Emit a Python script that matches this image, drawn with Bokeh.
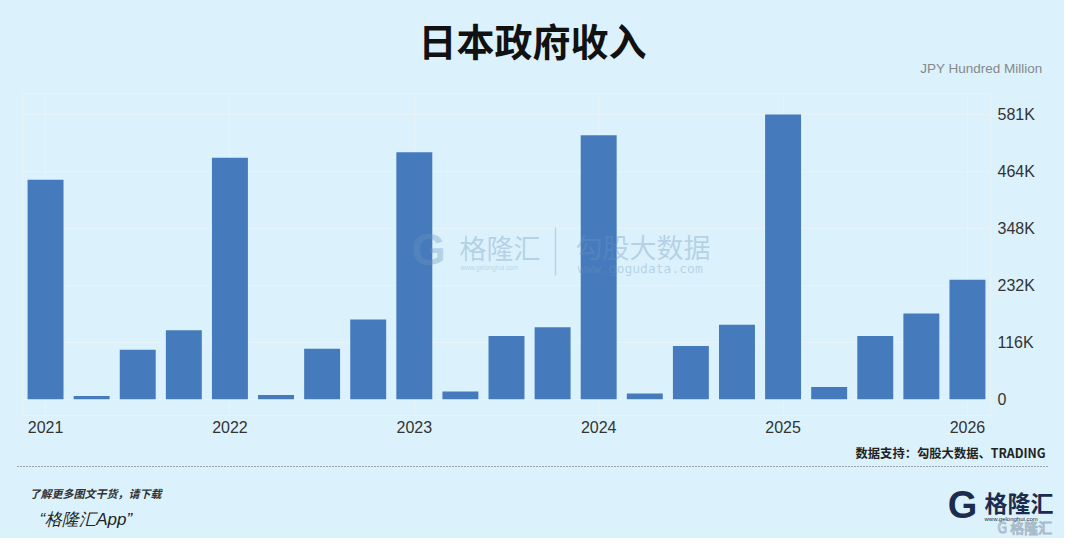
from bokeh.plotting import figure
from bokeh.layouts import column
from bokeh.models import (ColumnDataSource, Range1d, FixedTicker, Label, Arrow)
from bokeh.embed import file_html
from bokeh.resources import INLINE

# ---- data (JPY hundred million, quarterly) ----
quarters = ["2021Q1", "2021Q2", "2021Q3", "2021Q4",
            "2022Q1", "2022Q2", "2022Q3", "2022Q4",
            "2023Q1", "2023Q2", "2023Q3", "2023Q4",
            "2024Q1", "2024Q2", "2024Q3", "2024Q4",
            "2025Q1", "2025Q2", "2025Q3", "2025Q4",
            "2026Q1"]
revenue = [448000, 7000, 101000, 141000,
           493000, 9000, 103000, 163000,
           504000, 16000, 129000, 147000,
           539000, 12000, 109000, 152000,
           581000, 25000, 129000, 175000,
           244000]
year_labels = ["2021", "2022", "2023", "2024", "2025", "2026"]
y_ticks = [0, 116200, 232400, 348600, 464800, 581000]
y_tick_labels = ["0", "116K", "232K", "348K", "464K", "581K"]

BG = "#dbf2fc"
BAR = "#457bbd"
GRID = "#e6f3f9"
WM = "#6f93bb"
W = 1064
H_HEAD, H_MAIN, H_FOOT = 92, 348, 98


def lab(fig, x, y, text, size, color="#222222", font="Noto Sans CJK SC", style="normal",
        align="left", baseline="middle", alpha=1.0, **kw):
    fig.add_layout(Label(x=x, y=y, x_units="screen", y_units="screen", text=text,
                         text_font=font, text_font_size=size, text_font_style=style,
                         text_color=color, text_align=align, text_baseline=baseline,
                         text_alpha=alpha, **kw))


def blank(h):
    f = figure(width=W, height=h, output_backend="svg", toolbar_location=None,
               x_range=Range1d(0, W), y_range=Range1d(0, h),
               x_axis_location=None, y_axis_location=None,
               min_border=0, background_fill_color=BG, border_fill_color=BG,
               outline_line_color=None, frame_align=False)
    f.grid.visible = False
    return f


# ---- header ----
head = blank(H_HEAD)
lab(head, 532, 53.5, "日本政府收入", "38px", "#111111", style="bold", align="center")
lab(head, 1042, 24, "JPY Hundred Million", "13.5px", "#888888", font="Liberation Sans", align="right")

# ---- main chart ----
idx = list(range(len(quarters)))
source = ColumnDataSource(dict(x=idx, top=revenue, q=quarters))

p = figure(width=W, height=H_MAIN, output_backend="svg", toolbar_location=None,
           x_range=Range1d(-0.5, len(quarters) - 0.5),
           y_range=Range1d(-33000, 624000),
           y_axis_location="right",
           min_border_left=22, min_border_right=74,
           min_border_top=1, min_border_bottom=25,
           background_fill_color=BG, border_fill_color=BG,
           outline_line_color=GRID, outline_line_width=1, frame_align=False)

p.vbar(x="x", top="top", width=0.78, source=source,
       fill_color=BAR, line_color=None)

year_pos = [quarters.index(y + "Q1") for y in year_labels]
xt = FixedTicker(ticks=year_pos)
p.xaxis.ticker = xt
p.xaxis.major_label_overrides = {pos: l for pos, l in zip(year_pos, year_labels)}
p.xgrid.ticker = xt

yt = FixedTicker(ticks=y_ticks)
p.yaxis.ticker = yt
p.yaxis.major_label_overrides = {v: l for v, l in zip(y_ticks, y_tick_labels)}
p.ygrid.ticker = yt

for ax in (p.xaxis[0], p.yaxis[0]):
    ax.axis_line_color = None
    ax.major_tick_line_color = None
    ax.minor_tick_line_color = None
    ax.major_tick_out = 0
    ax.major_tick_in = 0
    ax.minor_tick_out = 0
    ax.major_label_text_font = "Liberation Sans"
    ax.major_label_text_font_size = "16px"
    ax.major_label_text_color = "#333333"
p.xaxis.major_label_standoff = 5
p.yaxis.major_label_standoff = 7

p.xgrid.grid_line_color = GRID
p.ygrid.grid_line_color = GRID

# central watermark (frame-relative screen units)
lab(p, 406, 166, "G", "44px", WM, font="Liberation Sans", style="bold", align="center", alpha=0.35)
lab(p, 437, 168, "格隆汇", "27px", WM, alpha=0.35)
lab(p, 438, 148, "www.gelonghui.com", "6.5px", WM, font="Liberation Sans", alpha=0.35)
p.add_layout(Arrow(end=None, x_start=533, y_start=140, x_end=533, y_end=188,
                   start_units="screen", end_units="screen",
                   line_color=WM, line_alpha=0.3, line_width=1.5))
lab(p, 553, 169, "勾股大数据", "27px", WM, alpha=0.35)
lab(p, 555, 147, "www.gogudata.com", "13px", WM, font="DejaVu Sans Mono", alpha=0.35)

# ---- footer ----
foot = blank(H_FOOT)
lab(foot, 1045, 86, "数据支持：勾股大数据、TRADING", "12.3px", "#222222", style="bold", align="right")
foot.add_layout(Arrow(end=None, x_start=17, y_start=72, x_end=1047, y_end=72,
                      start_units="screen", end_units="screen",
                      line_color="#555555", line_width=1, line_dash="1 2"))
lab(foot, 29, 46, "了解更多图文干货，请下载", "11px", "#333333", style="bold italic")
lab(foot, 39, 19, "“格隆汇App”", "17px", "#222222", font="Liberation Sans", style="italic")
lab(foot, 962, 34, "G", "38px", "#1d2b4f", font="Liberation Sans", style="bold", align="center")
lab(foot, 984, 37, "格隆汇", "23px", "#1d2b4f", style="bold")
lab(foot, 984, 20, "www.gelonghui.com", "6px", "#1d2b4f", font="Liberation Sans")
lab(foot, 997, 12, "G 格隆汇", "14px", "#ffffff", alpha=0.9, text_outline_color="#9fb3c3")

layout = column(head, p, foot, spacing=0, styles={"background-color": BG})
open("out.html", "w").write(file_html(layout, INLINE))
